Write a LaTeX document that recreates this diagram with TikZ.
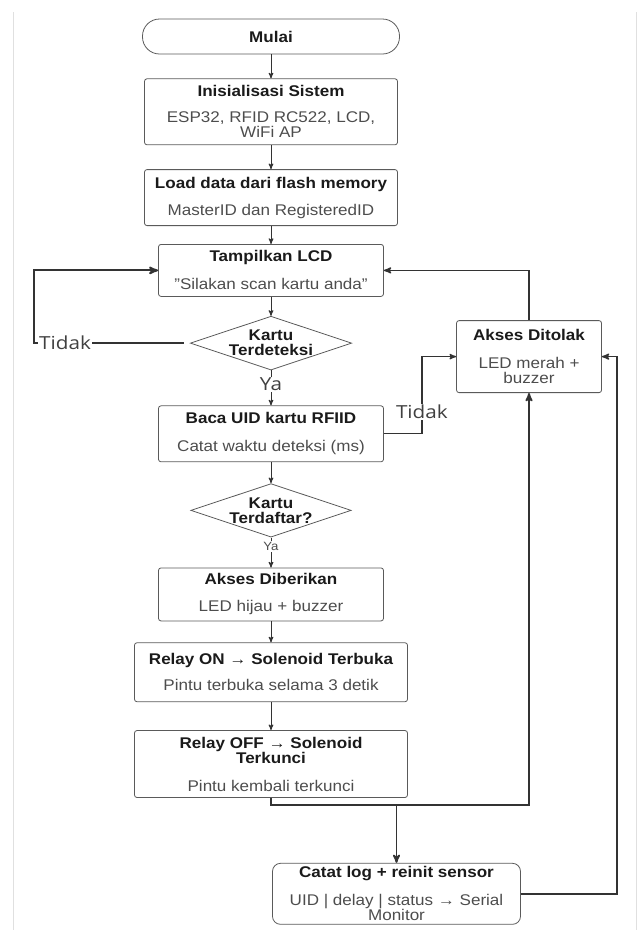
\documentclass[tikz,border=0pt]{standalone}
\usepackage{fontspec}
\setmainfont[FakeStretch=1.1]{Liberation Sans}
\newfontfamily\labelfont[FakeStretch=1.15]{Open Sans}
\usepackage{tikz}
\usetikzlibrary{arrows,shapes,positioning}

\definecolor{garis}{HTML}{5A5A5A}
\definecolor{judulc}{HTML}{1A1A1A}
\definecolor{ketc}{HTML}{4D4D4D}
\newcommand{\judul}[1]{{\bfseries\color{judulc}#1}}
\newcommand{\ket}[1]{{\color{ketc}#1}}

\begin{document}
\begin{tikzpicture}[x=1pt,y=1pt,node distance=24pt,>=stealth']

	\tikzstyle{base}=[draw=garis,line width=0.8pt,align=center,font=\fontsize{15.5}{15}\selectfont,inner xsep=4pt,inner ysep=3pt]
	\tikzstyle{terminal}=[base,rounded corners=17pt,minimum width=257pt,minimum height=35pt]
	\tikzstyle{proses}=[base,rectangle,rounded corners=2.5pt]
	\tikzstyle{keputusan}=[base,diamond,aspect=3,inner sep=0pt]
	\tikzstyle{alur}=[->,draw=black!80,line width=1pt]
	\tikzstyle{balik}=[->,draw=black!80,line width=2pt]
	\tikzstyle{ket label}=[fill=white,inner sep=1pt,font=\labelfont\fontsize{18}{18}\selectfont,text=black!75]
	\tikzstyle{ya kecil}=[fill=white,inner sep=1pt,font=\fontsize{12}{12}\selectfont,text=ketc]

	\useasboundingbox (0,0) rectangle (638,-930);
	\draw [black!12] (13,-12) -- (13,-930);
	\draw [black!12] (636.5,-12) -- (636.5,-930);

	\node [terminal] (mulai) at (271,-36.5) {\judul{Mulai}};
	\node [proses,minimum width=253pt,minimum height=66pt] (init) [below=24pt of mulai]
		{\judul{Inisialisasi Sistem}\\[11pt]\ket{ESP32, RFID RC522, LCD,}\\\ket{WiFi AP}};
	\node [proses,minimum width=253pt,minimum height=56pt] (load) [below=24pt of init]
		{\judul{Load data dari flash memory}\\[12pt]\ket{MasterID dan RegisteredID}};
	\node [proses,minimum width=225pt,minimum height=52pt] (lcd) [below=18pt of load]
		{\judul{Tampilkan LCD}\\[13pt]\ket{"Silakan scan kartu anda"}};
	\node [keputusan] (deteksi) [below=19pt of lcd] {\judul{Kartu}\\\judul{Terdeteksi}};
	\node [proses,minimum width=225pt,minimum height=56pt] (baca) [below=35pt of deteksi]
		{\judul{Baca UID kartu RFIID}\\[13pt]\ket{Catat waktu deteksi (ms)}};
	\node [keputusan] (daftar) [below=21pt of baca] {\judul{Kartu}\\\judul{Terdaftar?}};
	\node [proses,minimum width=225pt,minimum height=53pt] (beri) [below=30pt of daftar]
		{\judul{Akses Diberikan}\\[12pt]\ket{LED hijau + buzzer}};
	\node [proses,minimum width=273pt,minimum height=59pt] (relayon) [below=21pt of beri]
		{\judul{Relay ON → Solenoid Terbuka}\\[11pt]\ket{Pintu terbuka selama 3 detik}};
	\node [proses,minimum width=273pt,minimum height=67pt] (relayoff) [below=28pt of relayon]
		{\judul{Relay OFF → Solenoid}\\\judul{Terkunci}\\[13pt]\ket{Pintu kembali terkunci}};
	\node [proses,rounded corners=8pt,minimum width=248pt,minimum height=61pt] (catat) [below=65pt of relayoff,xshift=125.5pt]
		{\judul{Catat log + reinit sensor}\\[13pt]\ket{UID | delay | status → Serial}\\\ket{Monitor}};
	\node [proses,minimum width=145pt,minimum height=72pt] (tolak) [right=104pt of deteksi,yshift=-13.5pt]
		{\judul{Akses Ditolak}\\[13pt]\ket{LED merah +}\\\ket{buzzer}};

	% alur utama
	\draw [alur] (mulai) -- (init);
	\draw [alur] (init) -- (load);
	\draw [alur] (load) -- (lcd);
	\draw [alur] (lcd) -- (deteksi);
	\draw [alur] (deteksi) -- node [ket label,pos=0.4] {Ya} (baca);
	\draw [alur] (baca) -- (daftar);
	\draw [alur] (daftar) -- node [ya kecil,pos=0.3] {Ya} (beri);
	\draw [alur] (beri) -- (relayon);
	\draw [alur] (relayon) -- (relayoff);

	% kartu tidak terdeteksi
	\draw [balik,shorten <=6pt] (deteksi.west) -- ++(-156pt,0) node [ket label,pos=0.8] {Tidak} |- (lcd.west);
	% kartu tidak terdaftar
	\draw [alur,line width=1.3pt] (baca.east) -- ++(38pt,0) |- node [ket label,pos=0.14] {Tidak} (tolak.west);

	% selesai
	\coordinate [below=7pt of relayoff.south] (cabang);
	\draw [alur,line width=1.8pt] (relayoff.south) -- (cabang) -| (tolak.south);
	\draw [alur,line width=1.8pt] (cabang -| catat.north) -- (catat.north);
	\draw [alur,line width=1.5pt] (catat.east) -- ++(96pt,0) |- (tolak.east);
	\draw [alur,line width=1.5pt] (tolak.north) |- (lcd.east);
\end{tikzpicture}
\end{document}
